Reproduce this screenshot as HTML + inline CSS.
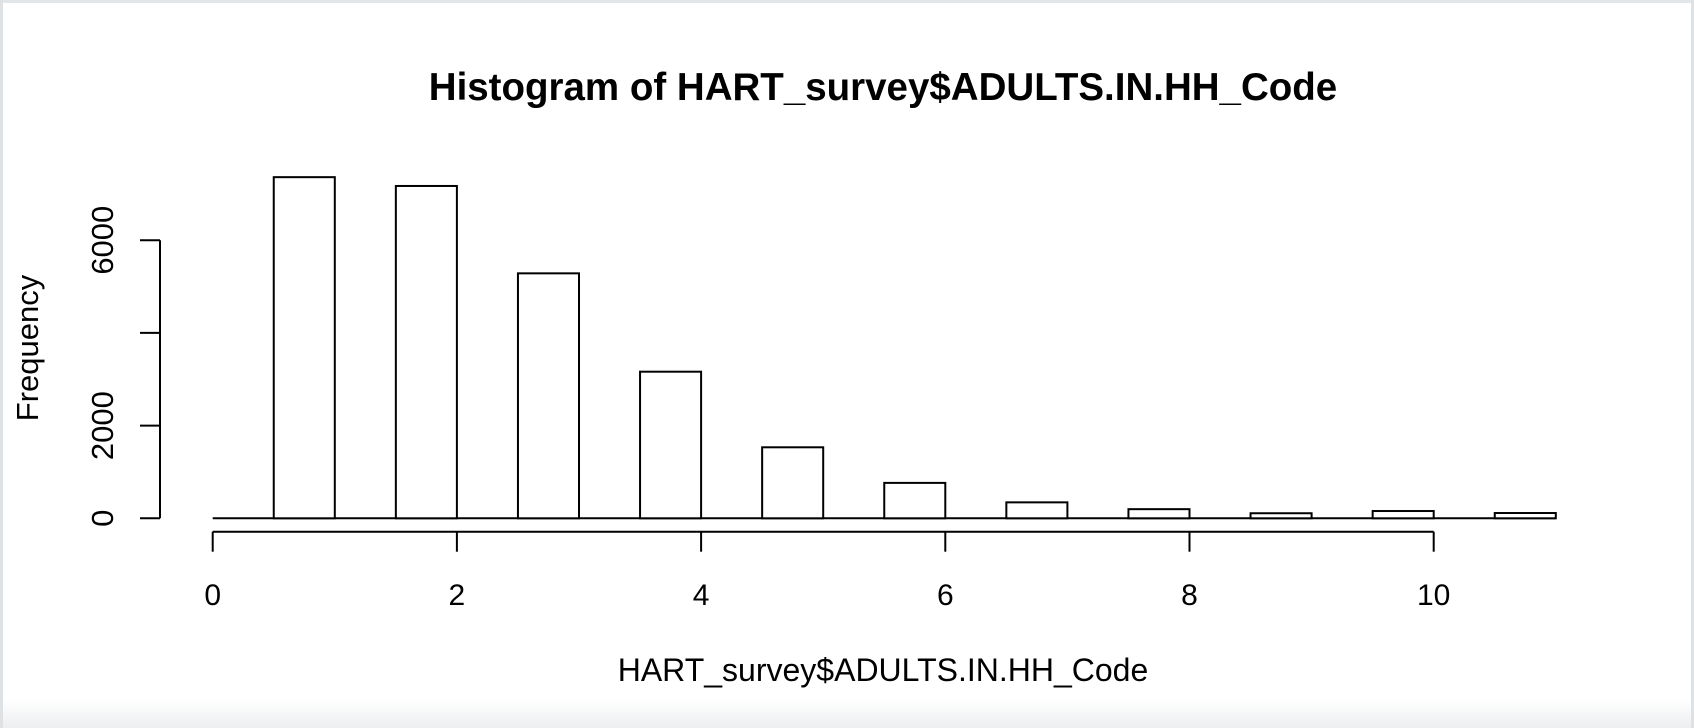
<!DOCTYPE html>
<html><head><meta charset="utf-8"><style>
html,body{margin:0;padding:0;background:#fff;}
svg{display:block;font-family:"Liberation Sans",Arial,sans-serif;}
</style></head><body>
<svg id="chart" width="1694" height="728" viewBox="0 0 1694 728">
<defs><linearGradient id="bg" x1="0" y1="0" x2="0" y2="1"><stop offset="0" stop-color="#ffffff"/><stop offset="1" stop-color="#eceef0"/></linearGradient></defs>
<rect x="0" y="0" width="1694" height="728" fill="#fff"/>
<rect x="0" y="700" width="1694" height="28" fill="url(#bg)"/>
<rect x="0" y="0" width="1694" height="3" fill="#e3e6e9"/>
<rect x="0" y="0" width="3" height="728" fill="#dfe2e5"/>
<rect x="1691" y="0" width="3" height="728" fill="#dfe2e5"/>
<text x="883" y="100" text-anchor="middle" font-size="38.5" font-weight="bold">Histogram of HART_survey$ADULTS.IN.HH_Code</text>
<text x="883" y="681" text-anchor="middle" font-size="32">HART_survey$ADULTS.IN.HH_Code</text>
<text transform="translate(38,348) rotate(-90)" text-anchor="middle" font-size="31">Frequency</text>
<g id="bars"></g>
<g id="axes"></g>
</svg>
<script>
const binStarts = [0.5,1.5,2.5,3.5,4.5,5.5,6.5,7.5,8.5,9.5,10.5];
const binEnds   = [1,2,3,4,5,6,7,8,9,10,11];
const counts    = [7360,7170,5285,3163,1532,764,344,197,109,157,114];
const xTicks    = [0,2,4,6,8,10];
const yTicks    = [0,2000,4000,6000];
const yTickLabels = ["0","2000","","6000"];

const NS = "http://www.w3.org/2000/svg";
const xs = v => 212.7 + v * 122.1;
const ys = v => 518.3 - v * 0.04635;
function mk(tag, attrs, parent){const e=document.createElementNS(NS,tag);for(const k in attrs)e.setAttribute(k,attrs[k]);parent.appendChild(e);return e;}
const bars = document.getElementById('bars');
const axes = document.getElementById('axes');

const base = mk('line',{x1:xs(0),x2:xs(11),y1:ys(0),y2:ys(0),stroke:'#000','stroke-width':2},bars);


binStarts.forEach((s,i)=>{
  const r = mk('rect',{x:xs(s),y:ys(counts[i]),width:xs(binEnds[i])-xs(s),height:ys(0)-ys(counts[i]),fill:'#fff',stroke:'#000','stroke-width':2},bars);
  
  
});

const xAxisY = 531.7;
const xl = mk('line',{x1:xs(xTicks[0]),x2:xs(xTicks[xTicks.length-1]),y1:xAxisY,y2:xAxisY,stroke:'#000','stroke-width':2},axes);


xTicks.forEach(t=>{
  const l = mk('line',{x1:xs(t),x2:xs(t),y1:xAxisY,y2:xAxisY+20,stroke:'#000','stroke-width':2},axes);
  
  
  const tx = mk('text',{x:xs(t),y:605,'text-anchor':'middle','font-size':30},axes);
  tx.textContent = t;
  
  
});

const yAxisX = 160;
const yl = mk('line',{x1:yAxisX,x2:yAxisX,y1:ys(yTicks[0]),y2:ys(yTicks[yTicks.length-1]),stroke:'#000','stroke-width':2},axes);


yTicks.forEach((t,i)=>{
  const l = mk('line',{x1:yAxisX-20,x2:yAxisX,y1:ys(t),y2:ys(t),stroke:'#000','stroke-width':2},axes);
  
  
  if(yTickLabels[i]){
    const tx = mk('text',{transform:`translate(113,${ys(t)}) rotate(-90)`,'text-anchor':'middle','font-size':31},axes);
    tx.textContent = yTickLabels[i];
    
    
  }
});
</script>
</body></html>
